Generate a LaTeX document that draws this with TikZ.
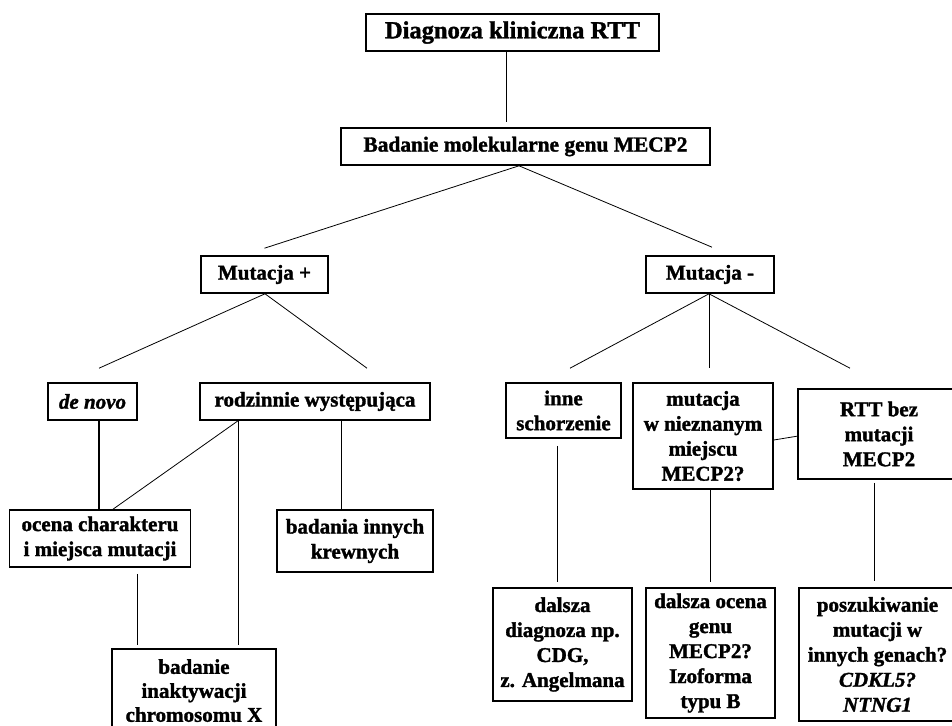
\documentclass[tikz,border=0pt]{standalone}
\usepackage{fontspec}
\setmainfont{Liberation Serif}[BoldFeatures={FakeBold=1.5},BoldItalicFeatures={FakeBold=1.5}]
\begin{document}
\begin{tikzpicture}[x=1pt,y=1pt,
  box/.style={draw=black,line width=1.6pt,inner sep=0pt,align=center,
    font=\fontsize{21}{25}\selectfont\bfseries},
  conn/.style={draw=black,line width=0.8pt},
  thickconn/.style={draw=black,line width=1.5pt}]
\clip (0,0) rectangle (952,-725);
\fill[white] (0,0) rectangle (952,-725);
% nodes
\node[box,minimum width=293pt,minimum height=37pt,font=\fontsize{24.5}{28}\selectfont\bfseries] (title) at (512.5,-32.5) {Diagnoza kliniczna RTT};
\node[box,minimum width=369pt,minimum height=37pt,font=\fontsize{21.4}{25}\selectfont\bfseries] (badanie) at (525.5,-146.5) {Badanie molekularne genu MECP2};
\node[box,minimum width=127pt,minimum height=37pt] (mplus) at (264.5,-274.5) {Mutacja +};
\node[box,minimum width=128pt,minimum height=37pt] (mminus) at (710,-274.5) {Mutacja -};
\node[box,minimum width=89pt,minimum height=37pt] (denovo) at (92.5,-401.5) {\itshape de novo};
\node[box,minimum width=230pt,minimum height=37pt] (rodz) at (315,-401.5) {rodzinnie występująca};
\node[box,minimum width=181pt,minimum height=57pt] (ocena) at (100,-538.5) {ocena charakteru\\i miejsca mutacji};
\node[box,minimum width=156pt,minimum height=62pt] (badinn) at (355,-541) {badania innych\\krewnych};
\node[box,minimum width=164pt,minimum height=86pt,font=\fontsize{21}{24}\selectfont\bfseries] (inakt) at (194,-692) {\raisebox{3pt}{badanie}\\\raisebox{3pt}{inaktywacji}\\\raisebox{3pt}{chromosomu X}};
\node[box,minimum width=115pt,minimum height=55pt] (inne) at (563.5,-410.5) {inne\\schorzenie};
\node[box,minimum width=140pt,minimum height=106pt] (mutw) at (703,-436) {mutacja\\w nieznanym\\miejscu\\MECP2?};
\node[box,minimum width=162pt,minimum height=90pt] (rtt) at (879,-434) {RTT bez\\mutacji\\MECP2};
\node[box,minimum width=139pt,minimum height=113pt] (ddiag) at (562.5,-644.5) {dalsza\\diagnoza np.\\CDG,\\z. Angelmana};
\node[box,minimum width=129pt,minimum height=130pt] (docena) at (710.5,-653) {dalsza ocena\\genu\\MECP2?\\Izoforma\\typu B};
\node[box,minimum width=157pt,minimum height=133pt] (posz) at (877.5,-654.5) {poszukiwanie\\mutacji w\\innych genach?\\\itshape CDKL5?\\\itshape NTNG1};
% connectors
\draw[conn] ([xshift=-6.5pt]title.south) -- ([xshift=-19.5pt,yshift=5pt]badanie.north);
\draw[conn] ([xshift=-6.5pt]badanie.south) -- ([yshift=7pt]mplus.north);
\draw[conn] ([xshift=-6.5pt]badanie.south) -- ([xshift=2pt,yshift=8pt]mminus.north);
\draw[conn] ([xshift=0.5pt]mplus.south) -- ([xshift=6.5pt,yshift=14pt]denovo.north);
\draw[conn] ([xshift=0.5pt]mplus.south) -- ([xshift=52pt,yshift=14pt]rodz.north);
\draw[conn] ([xshift=-1pt]mminus.south) -- ([xshift=6.5pt,yshift=14pt]inne.north);
\draw[conn] ([xshift=-1pt]mminus.south) -- ([xshift=6pt,yshift=14pt]mutw.north);
\draw[conn] ([xshift=-1pt]mminus.south) -- ([xshift=-29pt,yshift=20pt]rtt.north);
\draw[thickconn] ([xshift=6.5pt]denovo.south) -- ([xshift=-1pt]ocena.north);
\draw[conn] ([xshift=-77pt]rodz.south) -- ([xshift=13pt]ocena.north);
\draw[conn] ([xshift=-77pt]rodz.south) -- ([xshift=44pt,yshift=3pt]inakt.north);
\draw[conn] ([xshift=26pt]rodz.south) -- ([xshift=-14pt]badinn.north);
\draw[conn] ([xshift=37pt,yshift=-6pt]ocena.south) -- ([xshift=-57pt,yshift=3pt]inakt.north);
\draw[conn] ([xshift=-6.5pt,yshift=-7pt]inne.south) -- ([xshift=-5.5pt,yshift=5pt]ddiag.north);
\draw[conn] ([xshift=7pt]mutw.south) -- ([xshift=-0.5pt,yshift=5pt]docena.north);
\draw[conn] ([yshift=-4pt]mutw.east) -- ([xshift=1pt,yshift=-2pt]rtt.west);
\draw[conn] ([xshift=-5pt,yshift=-3pt]rtt.south) -- ([xshift=-3.5pt,yshift=6pt]posz.north);
\end{tikzpicture}
\end{document}
